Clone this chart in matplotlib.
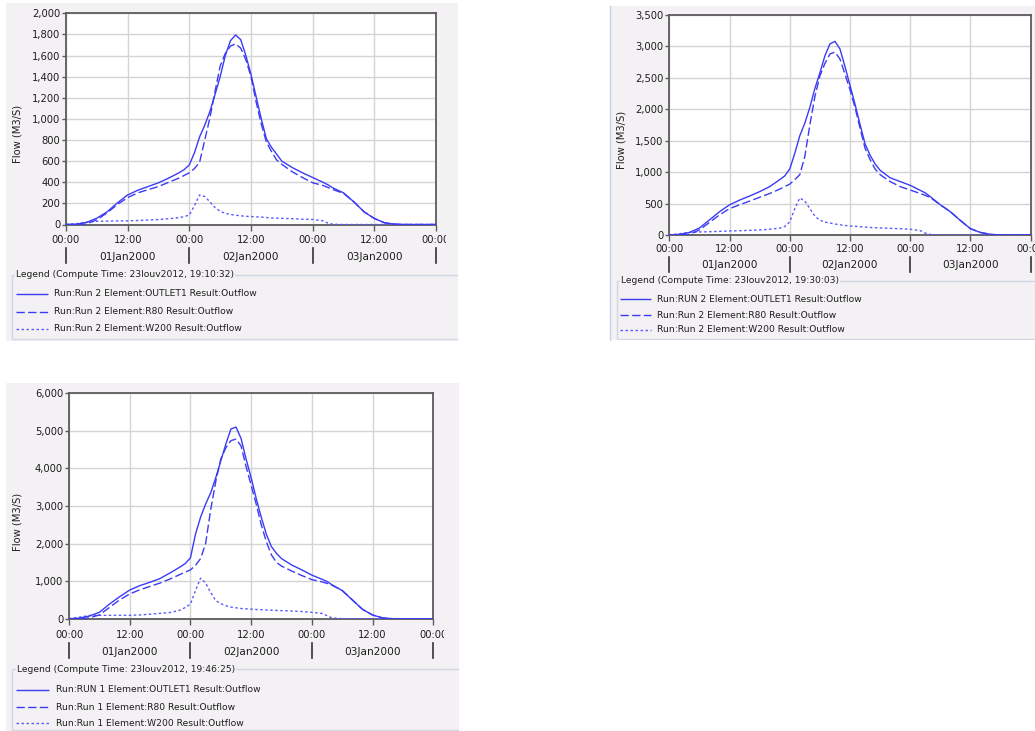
import matplotlib
matplotlib.use('Agg')
import matplotlib.pyplot as plt
from matplotlib.patches import Rectangle
from matplotlib.lines import Line2D
from matplotlib.transforms import Bbox, Affine2D, blended_transform_factory
from matplotlib.ticker import FuncFormatter, MultipleLocator

# ---------------- data (hours since 01Jan2000 00:00) ----------------
HOURS = [0, 2, 4, 6, 8, 10, 12, 14, 16, 18, 20, 22, 23, 24, 25, 26, 27, 28, 29, 30,
         31, 32, 33, 34, 35, 36, 37, 38, 39, 40, 41, 42, 44, 46, 48, 50, 51, 52, 54,
         56, 58, 60, 62, 64, 66, 72]

# Panel 1 (Run 2, 19:10:32)
P1_OUTLET1 = [0, 3, 20, 60, 120, 205, 280, 325, 360, 395, 440, 490, 520, 565, 680, 830, 940, 1070, 1230, 1400,
              1600, 1740, 1795, 1750, 1600, 1420, 1210, 1000, 810, 730, 665, 600, 540, 490, 445, 400, 375, 345, 300,
              215, 120, 57, 16, 3, 0, 0]
P1_R80 = [0, 0, 5, 45, 110, 190, 255, 300, 330, 360, 400, 440, 465, 490, 530, 590, 800, 1010, 1260, 1500,
          1620, 1690, 1710, 1670, 1560, 1400, 1160, 950, 780, 690, 610, 570, 500, 445, 395, 370, 350, 330, 295,
          215, 120, 57, 16, 3, 0, 0]
P1_W200 = [0, 8, 22, 30, 32, 34, 35, 38, 42, 47, 55, 65, 75, 90, 180, 280, 265, 215, 160, 125,
           105, 95, 88, 82, 78, 75, 72, 70, 66, 62, 60, 58, 55, 50, 48, 35, 12, 2, 0,
           0, 0, 0, 0, 0, 0, 0]

# Panel 2 (Run 2, 19:30:03)
P2_OUTLET1 = [0, 10, 40, 110, 240, 370, 480, 555, 620, 690, 770, 880, 940, 1050, 1300, 1580, 1780, 2030, 2330, 2580,
              2850, 3040, 3080, 2960, 2680, 2380, 2080, 1760, 1450, 1270, 1130, 1030, 910, 850, 790, 710, 670, 610, 480,
              370, 230, 100, 40, 10, 0, 0]
P2_R80 = [0, 0, 10, 80, 200, 320, 420, 480, 540, 600, 660, 730, 770, 810, 880, 960, 1250, 1750, 2200, 2530,
          2730, 2880, 2910, 2800, 2560, 2310, 2030, 1700, 1380, 1200, 1050, 960, 850, 770, 715, 660, 630, 595, 480,
          370, 230, 100, 40, 10, 0, 0]
P2_W200 = [0, 20, 42, 48, 52, 58, 64, 68, 74, 80, 92, 110, 135, 210, 420, 590, 540, 420, 300, 235,
           205, 190, 175, 162, 152, 143, 138, 132, 127, 120, 116, 112, 106, 100, 92, 70, 30, 8, 0,
           0, 0, 0, 0, 0, 0, 0]

# Panel 3 (Run 1, 19:46:25)
P3_OUTLET1 = [0, 15, 70, 170, 390, 585, 763, 880, 970, 1070, 1220, 1380, 1470, 1620, 2250, 2700, 3050, 3350, 3750, 4200,
              4650, 5050, 5100, 4800, 4250, 3750, 3200, 2700, 2250, 1920, 1740, 1600, 1430, 1300, 1160, 1050, 990, 900, 750,
              500, 250, 98, 20, 0, 0, 0]
P3_R80 = [0, 0, 20, 100, 300, 500, 660, 770, 860, 950, 1060, 1180, 1240, 1300, 1420, 1600, 2000, 2900, 3650, 4250,
          4550, 4740, 4780, 4600, 4050, 3550, 3050, 2500, 2050, 1700, 1500, 1400, 1270, 1150, 1040, 980, 940, 890, 750,
          500, 250, 98, 20, 0, 0, 0]
P3_W200 = [0, 40, 85, 90, 90, 90, 90, 100, 120, 142, 165, 230, 300, 390, 750, 1080, 950, 700, 480, 400,
           345, 310, 290, 272, 262, 255, 245, 238, 231, 225, 220, 215, 205, 190, 170, 140, 80, 20, 0,
           0, 0, 0, 0, 0, 0, 0]

X_TICK_HOURS = [0, 12, 24, 36, 48, 60, 72]
X_TICK_LABELS = ['00:00', '12:00', '00:00', '12:00', '00:00', '12:00', '00:00']
DATE_HOURS = [12, 36, 60]
DATE_LABELS = ['01Jan2000', '02Jan2000', '03Jan2000']
DAY_BOUNDS = [0, 24, 48, 72]

Y_MAX = [2000, 3500, 6000]
Y_STEP = [200, 500, 1000]
Y_LABEL = 'Flow (M3/S)'

LEGEND_TITLES = ['Legend (Compute Time: 23Iouv2012, 19:10:32)',
                 'Legend (Compute Time: 23Iouv2012, 19:30:03)',
                 'Legend (Compute Time: 23Iouv2012, 19:46:25)']
LEGEND_ENTRIES = [
    ['Run:Run 2 Element:OUTLET1 Result:Outflow', 'Run:Run 2 Element:R80 Result:Outflow',
     'Run:Run 2 Element:W200 Result:Outflow'],
    ['Run:RUN 2 Element:OUTLET1 Result:Outflow', 'Run:Run 2 Element:R80 Result:Outflow',
     'Run:Run 2 Element:W200 Result:Outflow'],
    ['Run:RUN 1 Element:OUTLET1 Result:Outflow', 'Run:Run 1 Element:R80 Result:Outflow',
     'Run:Run 1 Element:W200 Result:Outflow'],
]
SERIES = [[P1_OUTLET1, P1_R80, P1_W200],
          [P2_OUTLET1, P2_R80, P2_W200],
          [P3_OUTLET1, P3_R80, P3_W200]]

# ---------------- styling / layout ----------------
W, H = 1035, 731
BG = '#f4f1f4'
GRID = '#d4d4d4'
FRAME = '#5c5c5c'
TXT = '#1e1e1e'
BORDER = '#cfd8e4'
LINE_COLORS = ['#3b3bf5', '#3b3bf5', '#5a5aff']
LINE_STYLES = [(0, ()), (0, (6, 2.4)), (0, (1.8, 1.8))]

plt.rcParams['font.family'] = ['DejaVu Sans']

fig = plt.figure(figsize=(W / 100, H / 100), dpi=100)
fig.patch.set_facecolor('white')

# top-origin pixel transform -> display
PIX = Affine2D().scale(1, -1).translate(0, H)


def frac_rect(x0, y0, x1, y1):
    return [x0 / W, 1 - y1 / H, (x1 - x0) / W, (y1 - y0) / H]


def clipbox(x0, y0, x1, y1):
    return Bbox.from_extents(x0, H - y1, x1, H - y0)


LAYOUT = [
    dict(bg=(6, 3, 458, 341), ax=(66, 13.3, 436, 224.5), tick_y=240, tick_clip=446, date_y=257, sep=(248, 263),
         ylab=(17, 134), leg_box=(12, 275, 700, 339), title=(16, 274), rows=(294, 312, 329),
         line_x=(16, 48), text_x=54),
    dict(bg=(610, 6, 1035, 340), ax=(669.3, 15, 1030.7, 235), tick_y=249, tick_clip=1035, date_y=265, sep=(257, 272),
         ylab=(622, 140), leg_box=(617, 281, 1300, 339), title=(621, 281), rows=(299, 315, 330),
         line_x=(620, 651), text_x=657),
    dict(bg=(6, 383, 459, 731), ax=(69, 393.3, 433.3, 618.7), tick_y=635, tick_clip=444, date_y=652, sep=(643, 658),
         ylab=(18, 522), leg_box=(12, 669, 700, 730), title=(17, 669), rows=(690, 707, 723),
         line_x=(16, 49), text_x=56),
]

for i, L in enumerate(LAYOUT):
    bx0, by0, bx1, by1 = L['bg']
    cb = clipbox(bx0, by0, bx1, by1)
    bg = Rectangle((bx0, by0), bx1 - bx0, by1 - by0, transform=PIX, facecolor=BG,
                   edgecolor='none', zorder=0)
    fig.add_artist(bg)
    if i == 1:
        fig.add_artist(Line2D([bx0, bx0], [by0, by1], transform=PIX, color='#c4d4ea', lw=1.0, zorder=1))

    ax = fig.add_axes(frac_rect(*L['ax']))
    ax.set_facecolor('white')
    ax.set_zorder(2)
    for k, data in enumerate(SERIES[i]):
        ax.plot(HOURS, data, color=LINE_COLORS[k], linestyle=LINE_STYLES[k], lw=1.0,
                solid_joinstyle='round', zorder=3 - 0.1 * k)
    ax.set_xlim(0, 72)
    ax.set_ylim(0, Y_MAX[i])
    ax.yaxis.set_major_locator(MultipleLocator(Y_STEP[i]))
    ax.yaxis.set_major_formatter(FuncFormatter(lambda v, p: f'{int(v):,}'))
    ax.set_xticks(X_TICK_HOURS)
    ax.set_xticklabels([''] * len(X_TICK_HOURS))
    ax.grid(True, color=GRID, lw=1.0)
    ax.set_axisbelow(True)
    for s in ax.spines.values():
        s.set_color(FRAME)
        s.set_linewidth(1.3)
    ax.tick_params(axis='y', length=3.0, width=1.0, color=FRAME, pad=1.2, labelsize=7.2, labelcolor=TXT)
    ax.tick_params(axis='x', length=4.0, width=1.0, color=FRAME, pad=1.0)

    # time-of-day labels (the last one is cut off by the chart component edge, as in the reference)
    tclip = clipbox(bx0, by0, L['tick_clip'], by1)
    tr = blended_transform_factory(ax.transData, PIX)
    for h, lab in zip(X_TICK_HOURS, X_TICK_LABELS):
        t = ax.text(h, L['tick_y'], lab, transform=tr, ha='center', va='center', fontsize=7.2,
                    color=TXT, clip_on=True)
        t.set_clip_box(tclip)
    for h, lab in zip(DATE_HOURS, DATE_LABELS):
        ax.text(h, L['date_y'], lab, transform=tr, ha='center', va='center', fontsize=7.6,
                color=TXT, clip_on=False)
    for h in DAY_BOUNDS:
        ln = Line2D([h, h], [L['sep'][0], L['sep'][1]], transform=tr, color='#333333', lw=1.2)
        ln.set_clip_on(False)
        ax.add_line(ln)

    fig.text(L['ylab'][0] / W, 1 - L['ylab'][1] / H, Y_LABEL, rotation=90, ha='center', va='center',
             fontsize=7.2, color=TXT)

    # legend (titled border)
    lx0, ly0, lx1, ly1 = L['leg_box']
    lb = Rectangle((lx0, ly0), lx1 - lx0, ly1 - ly0, transform=PIX, facecolor='none',
                   edgecolor=BORDER, lw=1.0, zorder=1)
    fig.add_artist(lb)
    lb.set_clip_box(cb)
    lb.set_clip_on(True)
    fig.text(L['title'][0] / W, 1 - L['title'][1] / H, LEGEND_TITLES[i], ha='left', va='center',
             fontsize=6.6, color=TXT, zorder=2,
             bbox=dict(facecolor=BG, edgecolor='none', pad=0.6))
    for k, (ry, lab) in enumerate(zip(L['rows'], LEGEND_ENTRIES[i])):
        fig.add_artist(Line2D([L['line_x'][0], L['line_x'][1]], [ry, ry], transform=PIX,
                              color=LINE_COLORS[k], linestyle=LINE_STYLES[k], lw=1.0, zorder=2))
        t = fig.text(L['text_x'] / W, 1 - ry / H, lab, ha='left', va='center', fontsize=6.6,
                     color=TXT, zorder=2)
        t.set_clip_box(cb)
        t.set_clip_on(True)

fig.savefig('out.png', dpi=100, facecolor='white')
